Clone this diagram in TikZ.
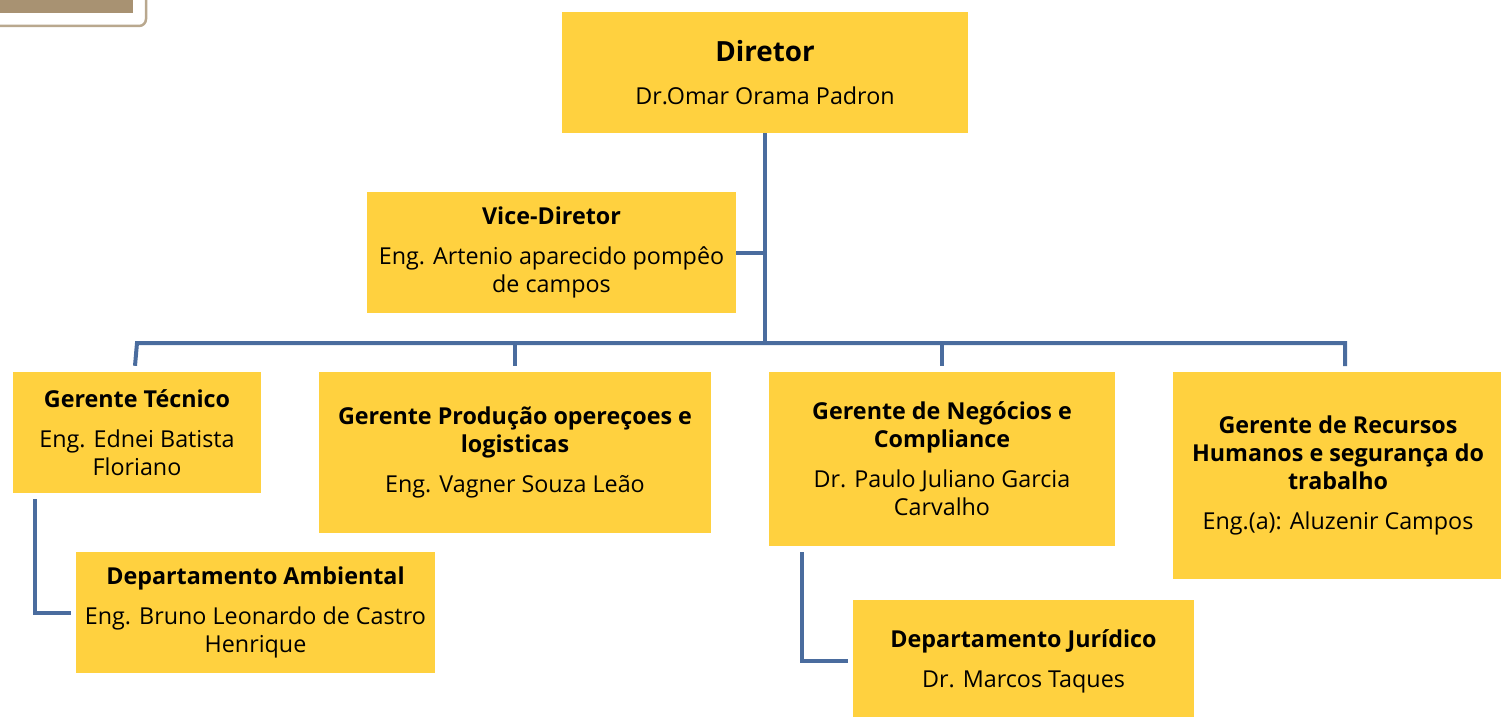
\documentclass[tikz,border=0pt]{standalone}
\usepackage{fontspec}
\setmainfont{Open Sans}
\definecolor{boxyellow}{HTML}{FFD13F}
\definecolor{lineblue}{HTML}{4A6C9E}
\definecolor{logobrown}{HTML}{A89272}
\begin{document}
\begin{tikzpicture}[x=1pt,y=-1pt,
  box/.style={fill=boxyellow, inner sep=0pt, align=center, font=\fontsize{23.3}{28}\selectfont},
  conn/.style={draw=lineblue, line width=4pt, line cap=butt, line join=miter}]
\useasboundingbox (0,0) rectangle (1501,717);
% logo fragment
\fill[logobrown] (0,0) rectangle (133,13);
\draw[logobrown!80, line width=2.5pt, rounded corners=7pt] (146,-6) -- (146,26) -- (-6,26);
% boxes
\node[box, minimum width=406pt, minimum height=121pt] (dir) at (765,72.5)
  {{\fontsize{27.8}{32}\selectfont\bfseries Diretor}\\[15pt]Dr.Omar Orama Padron};
\node[box, minimum width=369pt, minimum height=121pt] (vd) at (551.5,252.5)
  {\bfseries Vice-Diretor\\[12pt]Eng. Artenio aparecido pompêo\\de campos};
\node[box, minimum width=248pt, minimum height=121pt] (gt) at (137,432.5)
  {\bfseries Gerente Técnico\\[12pt]Eng. Ednei Batista\\Floriano};
\node[box, minimum width=392pt, minimum height=161pt] (gp) at (515,452.5)
  {\bfseries Gerente Produção opereçoes e\\\bfseries logisticas\\[12pt]Eng. Vagner Souza Leão};
\node[box, minimum width=346pt, minimum height=174pt] (gn) at (942,459)
  {\bfseries Gerente de Negócios e\\\bfseries Compliance\\[12pt]Dr. Paulo Juliano Garcia\\Carvalho};
\node[box, minimum width=330pt, minimum height=207pt] (gr) at (1338,475.5)
  {\bfseries Gerente de Recursos\\\bfseries Humanos e segurança do\\\bfseries trabalho\\[12pt]Eng.(a): Aluzenir Campos};
\node[box, minimum width=359pt, minimum height=121pt] (da) at (255.5,612.5)
  {\bfseries Departamento Ambiental\\[12pt]Eng. Bruno Leonardo de Castro\\Henrique};
\node[box, minimum width=341pt, minimum height=122pt] (dj) at (1023.5,661)
  {\bfseries Departamento Jurídico\\[12pt]Dr. Marcos Taques};
% connectors
\coordinate (bus) at (765,343);
\coordinate (busL) at (137,343);
\coordinate (busR) at (1345,343);
\draw[conn] (dir.south) -- (bus);
\draw[conn] (vd.east) -- (vd.east -| dir.south);
\draw[conn] ([xshift=-2pt]busL |- gt.north) ++(0,-6) -- (busL) -- (busR) -- ++(0,23);
\draw[conn] (busL -| gp.north) -- ([yshift=6pt]gp.north);
\draw[conn] (busL -| gn.north) -- ([yshift=6pt]gn.north);
\draw[conn] ([xshift=22pt,yshift=-6pt]gt.south west) |- ([xshift=-5pt]da.west);
\draw[conn] ([xshift=33pt,yshift=-6pt]gn.south west) |- ([xshift=-5pt]dj.west);
\end{tikzpicture}
\end{document}
